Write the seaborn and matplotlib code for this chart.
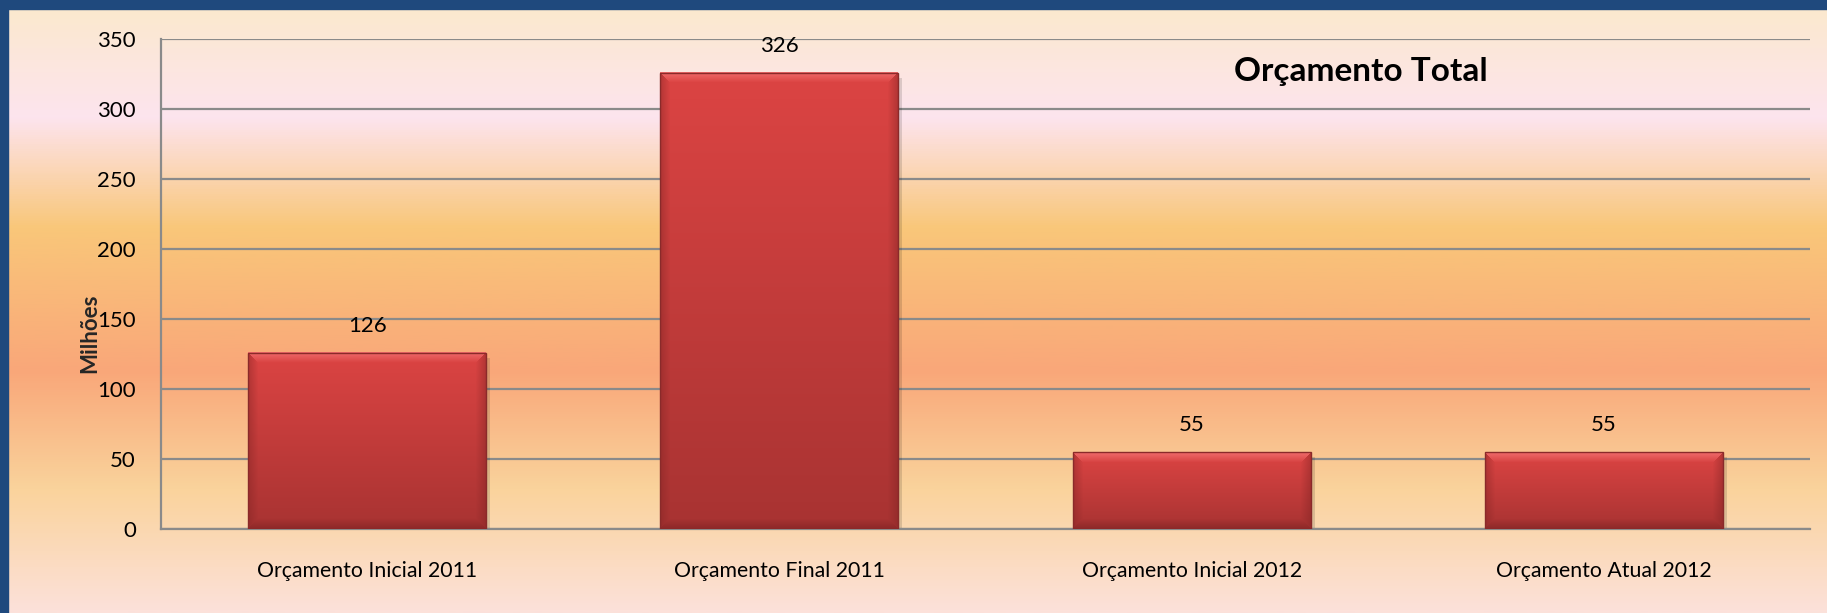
import numpy as np
import pandas as pd
import matplotlib
matplotlib.use("Agg")
import matplotlib.pyplot as plt
from matplotlib.colors import LinearSegmentedColormap, to_rgb
from matplotlib.patches import Rectangle
import seaborn as sns

# chart data
categorias = ["Orçamento Inicial 2011", "Orçamento Final 2011",
              "Orçamento Inicial 2012", "Orçamento Atual 2012"]
valores = [126, 326, 55, 55]
yticks = [0, 50, 100, 150, 200, 250, 300, 350]

df = pd.DataFrame({"categoria": categorias, "valor": valores})

sns.set_theme(style="white")
plt.rcParams["font.family"] = ["Lato", "DejaVu Sans"]

W, H = 1827, 613
fig = plt.figure(figsize=(W / 100, H / 100), dpi=100)

# background gradient (top -> bottom)
bg = fig.add_axes([0, 0, 1, 1])
stops = [(0.00, "#fbe9cc"), (0.19, "#fde4ee"), (0.37, "#f9c77a"),
         (0.605, "#f9a779"), (0.80, "#fad39c"), (1.00, "#fce1da")]
cmap_bg = LinearSegmentedColormap.from_list("bg", stops)
grad = np.linspace(0, 1, 600).reshape(-1, 1)
bg.imshow(grad, aspect="auto", cmap=cmap_bg, extent=[0, 1, 0, 1], origin="upper")
bg.set_xlim(0, 1)
bg.set_ylim(0, 1)
bg.axis("off")
# dark blue frame on left and top
bg.add_patch(Rectangle((0, 0), 8 / W, 1, color="#1f497d", transform=bg.transAxes))
bg.add_patch(Rectangle((0, 1 - 9 / H), 1, 9 / H, color="#1f497d", transform=bg.transAxes))

ax_l, ax_r, ax_t, ax_b = 161, 1810, 39, 529
ax = fig.add_axes([ax_l / W, (H - ax_b) / H, (ax_r - ax_l) / W, (ax_b - ax_t) / H])
ax.patch.set_alpha(0)
sns.barplot(data=df, x="categoria", y="valor", ax=ax, width=0.577,
            color="#c83a38", saturation=1, zorder=3)

ax.set_ylim(0, 350)
ax.set_yticks(yticks)
ax.yaxis.grid(True, color="#8a8a8a", linewidth=1.6)
ax.set_axisbelow(True)
for s in ["top", "right"]:
    ax.spines[s].set_visible(False)
for s in ["left", "bottom"]:
    ax.spines[s].set_color("#8a8a8a")
    ax.spines[s].set_linewidth(1.6)
ax.tick_params(axis="y", length=0, pad=18, labelsize=16, labelcolor="black")
ax.tick_params(axis="x", length=0, pad=23, labelsize=15.3, labelcolor="black")
ax.set_xlabel("")
ax.set_ylabel("Milhões", fontsize=16, fontweight="bold")
ax.yaxis.set_label_coords(-0.037, 0.40)
ax.set_xlim(-0.5, 3.5)

# bevelled gradient image for each bar, built in pixel units
top_c = np.array(to_rgb("#dc4443"))
bot_c = np.array(to_rgb("#a83332"))
hi_c = np.array(to_rgb("#f47474"))
dk_c = np.array(to_rgb("#7c2222"))
px_per_x = (ax_r - ax_l) / 4.0
px_per_y = (ax_b - ax_t) / 350.0
for p in list(ax.patches):
    x0, y0 = p.get_x(), p.get_y()
    w, h = p.get_width(), p.get_height()
    pw, ph = int(round(w * px_per_x)), int(round(h * px_per_y))
    t = np.linspace(0, 1, ph).reshape(-1, 1, 1)
    img = top_c * (1 - t) + bot_c * t
    img = np.broadcast_to(img, (ph, pw, 3)).copy()
    b = 10
    yy, xx = np.mgrid[0:ph, 0:pw]
    dist_top, dist_bot = yy, ph - 1 - yy
    dist_l, dist_r = xx, pw - 1 - xx
    m = np.minimum.reduce([dist_top, dist_bot, dist_l, dist_r])
    top_zone = (dist_top == m) & (m < b)
    bot_zone = (dist_bot == m) & (m < b)
    side_zone = ((dist_l == m) | (dist_r == m)) & (m < b) & ~top_zone & ~bot_zone
    f = (1 - m / b)[..., None]
    img = np.where(top_zone[..., None], img * (1 - 0.8 * f) + hi_c * 0.8 * f, img)
    img = np.where(bot_zone[..., None], img * (1 - 0.6 * f) + dk_c * 0.6 * f, img)
    img = np.where(side_zone[..., None], img * (1 - 0.4 * f) + dk_c * 0.4 * f, img)
    sh = Rectangle((x0 + 4 / px_per_x, y0 - 5 / px_per_y), w, h, facecolor="#000000",
                   alpha=0.13, edgecolor="none", zorder=2)
    ax.add_patch(sh)
    ax.imshow(img, aspect="auto", extent=[x0, x0 + w, y0, y0 + h],
              origin="upper", zorder=3.5, interpolation="bilinear")
    p.set_facecolor("none")
    p.set_edgecolor("#8a2a2a")
    p.set_linewidth(1.0)
    p.set_zorder(4)
ax.set_xlim(-0.5, 3.5)
ax.set_ylim(0, 350)

ax.bar_label(ax.containers[0], labels=[str(v) for v in valores],
             padding=12, fontsize=16, color="black")

fig.text(1361 / W, 1 - 71 / H, "Orçamento Total", fontsize=24, fontweight="bold",
         ha="center", va="center", color="black")

fig.savefig("out.png", dpi=100)
